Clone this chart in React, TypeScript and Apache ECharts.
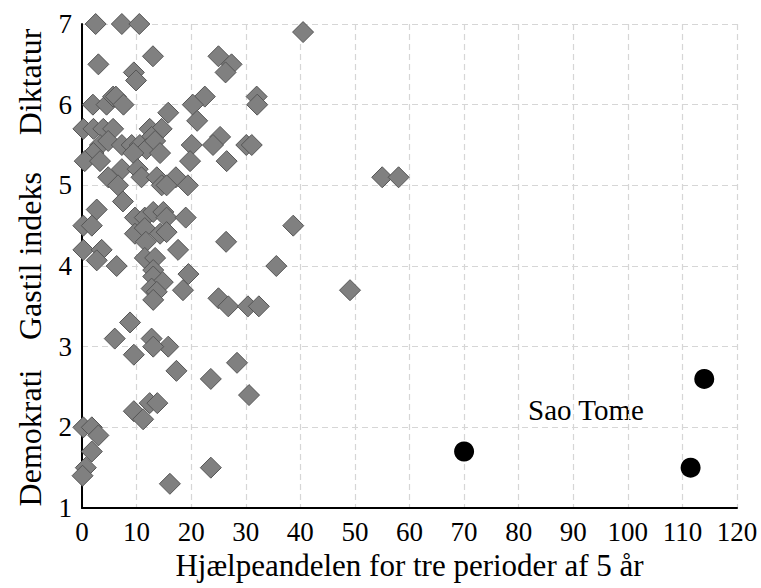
import React, { useEffect, useRef } from "react";
import * as echarts from "echarts";

// Countries (grey diamonds): [aid share, Gastil index]
const countryPoints: number[][] = [
  [2.5, 7.0], [7.3, 7.0], [10.5, 7.0], [40.5, 6.9],
  [3, 6.5], [9.5, 6.4], [9.9, 6.3], [13, 6.6], [25, 6.6], [27.4, 6.5], [26.3, 6.4],
  [32, 6.1], [32.1, 6.0], [22.5, 6.1], [20.3, 6.0], [21.1, 5.8], [15.8, 5.9],
  [2, 6.0], [4.5, 6.0], [5.7, 6.1], [6.2, 6.1], [7.6, 6.0],
  [0.25, 5.7], [2.1, 5.7], [3.9, 5.7], [5.7, 5.7], [12.4, 5.7], [14.6, 5.7],
  [12.75, 5.6], [25.3, 5.6],
  [3.3, 5.5], [4.8, 5.55], [7.3, 5.5], [9.1, 5.5], [10.6, 5.5], [11.8, 5.45], [13.4, 5.55],
  [20.1, 5.5], [24, 5.5], [30.1, 5.5], [31.1, 5.5],
  [2.1, 5.4], [9.4, 5.4], [14.3, 5.4],
  [0.5, 5.3], [3.3, 5.3], [19.8, 5.3], [26.5, 5.3],
  [7.3, 5.2], [10.2, 5.2],
  [4.8, 5.1], [10.9, 5.1], [13.7, 5.1], [17.2, 5.1], [55, 5.1], [58, 5.1],
  [6.6, 5.0], [14.6, 5.0], [15.5, 5.0], [19.4, 5.0],
  [7.5, 4.8], [2.7, 4.7],
  [0.25, 4.5], [1.8, 4.5], [9.7, 4.6], [11.5, 4.6], [13.05, 4.67], [14.9, 4.67], [15.5, 4.6],
  [19, 4.6], [38.7, 4.5],
  [9.7, 4.4], [11.5, 4.47], [14.3, 4.4], [15.5, 4.42],
  [11.7, 4.3], [26.4, 4.3],
  [17.6, 4.2], [0.25, 4.2], [3.6, 4.2],
  [2.7, 4.07], [11.5, 4.1], [13.4, 4.1],
  [6.35, 4.0], [35.6, 4.0],
  [13.05, 3.95], [19.5, 3.9],
  [13.05, 3.87], [14.8, 3.8],
  [18.5, 3.7], [12.75, 3.72], [49.1, 3.7],
  [13.7, 3.68], [13.05, 3.58], [25, 3.6],
  [26.8, 3.5], [30.4, 3.5], [32.4, 3.5],
  [8.8, 3.3],
  [6, 3.1], [12.75, 3.1],
  [15.8, 3.0], [13.05, 3.0],
  [9.5, 2.9], [28.4, 2.8], [17.3, 2.7], [23.6, 2.6], [30.6, 2.4],
  [12.4, 2.3], [13.8, 2.3], [9.5, 2.2], [11.2, 2.1],
  [0.25, 2.0], [1.8, 2.0], [3, 1.9], [1.8, 1.7],
  [0.7, 1.5], [23.6, 1.5], [0.1, 1.4], [16.1, 1.3],
];

// Highlighted (Sao Tome etc.) black circles
const highlightPoints: number[][] = [
  [70, 1.7],
  [111.5, 1.5],
  [114, 2.6],
];

const xAxisTitle = "Hjælpeandelen for tre perioder af 5 år";
const yAxisTitles = ["Diktatur", "Gastil indeks", "Demokrati"];
const annotation = "Sao Tome";

const FONT = "Liberation Serif, Times New Roman, serif";

export default function App() {
  const ref = useRef<HTMLDivElement>(null);

  useEffect(() => {
    if (!ref.current) return;
    const chart = echarts.init(ref.current, undefined, { renderer: "svg" });
    const yTitle = (text: string, y: number) => ({
      type: "text",
      x: 30,
      y,
      rotation: Math.PI / 2,
      style: {
        text,
        fontFamily: FONT,
        fontSize: 32,
        fill: "#000",
        textAlign: "center",
        textVerticalAlign: "middle",
      },
    });
    const option: any = {
      animation: false,
      backgroundColor: "#ffffff",
      textStyle: { fontFamily: FONT },
      grid: {
        left: 82,
        right: 24,
        top: 24,
        bottom: 80,
        containLabel: false,
        outerBoundsMode: "none",
      },
      xAxis: {
        type: "value",
        min: 0,
        max: 120,
        interval: 10,
        name: xAxisTitle,
        nameLocation: "middle",
        nameGap: 40,
        nameTextStyle: { fontFamily: FONT, fontSize: 31, color: "#000" },
        axisLine: { show: true, onZero: false, lineStyle: { color: "#000", width: 2 } },
        axisTick: { show: false },
        axisLabel: { fontFamily: FONT, fontSize: 27, color: "#000", margin: 10 },
        splitLine: { show: true, lineStyle: { color: "#d6d6d6", type: [6, 4], width: 1.2 } },
      },
      yAxis: {
        type: "value",
        min: 1,
        max: 7,
        interval: 1,
        axisLine: { show: true, onZero: false, lineStyle: { color: "#000", width: 2 } },
        axisTick: { show: false },
        axisLabel: { fontFamily: FONT, fontSize: 27, color: "#000", margin: 10 },
        splitLine: { show: true, lineStyle: { color: "#d6d6d6", type: [6, 4], width: 1.2 } },
      },
      graphic: [
        yTitle(yAxisTitles[0], 82),
        yTitle(yAxisTitles[1], 256),
        yTitle(yAxisTitles[2], 438),
        {
          type: "text",
          x: 586,
          y: 410,
          style: {
            text: annotation,
            fontFamily: FONT,
            fontSize: 29,
            fill: "#000",
            textAlign: "center",
            textVerticalAlign: "middle",
          },
        },
      ],
      series: [
        {
          type: "scatter",
          symbol: "diamond",
          symbolSize: 21,
          data: countryPoints,
          itemStyle: { color: "#808080", borderColor: "#555555", borderWidth: 1, opacity: 1 },
          emphasis: { disabled: true },
          z: 3,
        },
        {
          type: "scatter",
          symbol: "circle",
          symbolSize: 20,
          data: highlightPoints,
          itemStyle: { color: "#000000", opacity: 1 },
          emphasis: { disabled: true },
          z: 4,
        },
      ],
    };
    chart.setOption(option);
    return () => chart.dispose();
  }, []);

  return (
    <div
      ref={ref}
      style={{ position: "fixed", left: 0, top: 0, width: 761, height: 588 }}
    />
  );
}
